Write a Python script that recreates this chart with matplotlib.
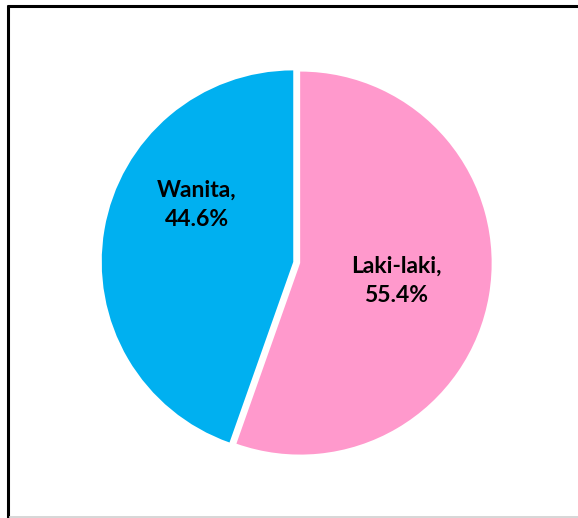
import matplotlib.pyplot as plt
from matplotlib.lines import Line2D

labels = ["Laki-laki", "Wanita"]
shares = [55.4, 44.6]
colors = ["#FF99CC", "#00B0F0"]

W, H = 578, 518
fig = plt.figure(figsize=(W / 100, H / 100), dpi=100)
ax = fig.add_axes([0, 0, 1, 1])

# pie in pixel units; explode is an absolute offset here
radius = 191.5
ax.pie(
    shares,
    colors=colors,
    startangle=90,
    counterclock=False,
    explode=[3.5, 3.5],
    radius=radius,
    center=(296.7, H - 262.5),
    wedgeprops=dict(linewidth=0),
    frame=True,
)
ax.set_xlim(0, W)
ax.set_ylim(0, H)
ax.set_aspect("equal")
ax.axis("off")

# labels inside the slices
label_pos = {"Laki-laki": (396, H - 281), "Wanita": (197, H - 205)}
for name, val in zip(labels, shares):
    x, y = label_pos[name]
    ax.text(x, y, f"{name},\n{val}%", ha="center", va="center",
            fontsize=16.5, fontweight="bold", family="Lato",
            linespacing=1.5, color="black")

# chart border as it appears in the crop
fig.add_artist(Line2D([7 / W, 1], [1 - 5.5 / H] * 2, color="black", lw=2.2,
                      transform=fig.transFigure, solid_capstyle="butt"))
fig.add_artist(Line2D([8 / W] * 2, [0, 1 - 4.5 / H], color="black", lw=2.2,
                      transform=fig.transFigure, solid_capstyle="butt"))
fig.add_artist(Line2D([9 / W, 1], [1 - 517 / H] * 2, color="#d0d0d0", lw=1.2,
                      transform=fig.transFigure, solid_capstyle="butt"))

fig.savefig("out.png", dpi=100)
